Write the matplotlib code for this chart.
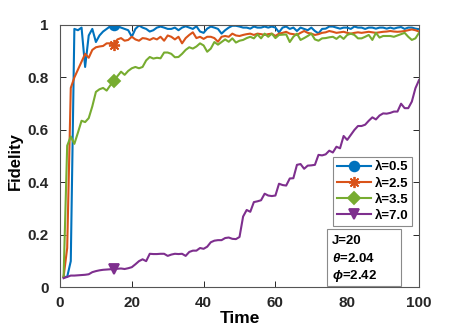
import matplotlib
matplotlib.use("Agg")
import matplotlib.pyplot as plt
from matplotlib.patches import Rectangle

plt.rcParams["font.family"] = ["Liberation Sans", "DejaVu Sans"]
plt.rcParams["font.weight"] = "bold"
plt.rcParams["mathtext.fontset"] = "custom"
plt.rcParams["mathtext.it"] = "Liberation Sans:bold:italic"
plt.rcParams["mathtext.rm"] = "Liberation Sans:bold"

time_steps = list(range(1, 101))

fid_l05 = [
    0.04, 0.04, 0.10, 0.985, 0.98, 0.99, 0.84, 0.96, 0.985, 0.935,
    0.96, 0.975, 0.985, 0.995, 0.998, 0.995, 0.99, 0.985, 0.98, 0.955,
    0.985, 0.998, 0.99, 0.985, 0.975, 0.98, 0.99, 0.994, 0.99, 0.985,
    0.985, 0.99, 0.98, 0.99, 0.995, 0.99, 0.985, 0.995, 0.975, 0.97,
    0.986, 0.994, 0.99, 0.985, 0.967, 0.98, 0.99, 0.997, 0.997, 0.994,
    0.99, 0.99, 0.986, 0.994, 0.99, 0.99, 0.994, 0.99, 0.994, 0.99,
    0.972, 0.99, 0.994, 0.985, 0.99, 0.977, 0.99, 0.985, 0.98, 0.99,
    0.977, 0.968, 0.985, 0.986, 0.994, 0.994, 0.99, 0.986, 0.99, 0.99,
    0.985, 0.994, 0.99, 0.99, 0.985, 0.99, 0.99, 0.986, 0.99, 0.99,
    0.986, 0.99, 0.986, 0.99, 0.992, 0.985, 0.99, 0.99, 0.986, 0.984,
]
fid_l25 = [
    0.04, 0.15, 0.76, 0.80, 0.83, 0.86, 0.89, 0.875, 0.905, 0.915,
    0.918, 0.92, 0.93, 0.93, 0.925, 0.945, 0.95, 0.94, 0.943, 0.955,
    0.945, 0.94, 0.95, 0.948, 0.943, 0.95, 0.945, 0.955, 0.94, 0.96,
    0.955, 0.945, 0.955, 0.93, 0.95, 0.962, 0.972, 0.95, 0.955, 0.947,
    0.955, 0.955, 0.95, 0.936, 0.955, 0.958, 0.955, 0.967, 0.96, 0.958,
    0.962, 0.965, 0.967, 0.962, 0.967, 0.965, 0.962, 0.965, 0.967, 0.958,
    0.967, 0.97, 0.974, 0.967, 0.965, 0.962, 0.97, 0.977, 0.97, 0.967,
    0.962, 0.965, 0.97, 0.972, 0.977, 0.974, 0.97, 0.972, 0.974, 0.97,
    0.967, 0.97, 0.972, 0.97, 0.972, 0.974, 0.972, 0.97, 0.972, 0.974,
    0.975, 0.977, 0.975, 0.974, 0.975, 0.977, 0.98, 0.983, 0.98, 0.975,
]
fid_l35 = [
    0.04, 0.54, 0.575, 0.547, 0.59, 0.635, 0.63, 0.645, 0.69, 0.745,
    0.755, 0.76, 0.75, 0.77, 0.785, 0.805, 0.822, 0.81, 0.825, 0.835,
    0.84, 0.835, 0.84, 0.865, 0.878, 0.872, 0.875, 0.873, 0.895, 0.895,
    0.89, 0.877, 0.878, 0.89, 0.905, 0.915, 0.91, 0.918, 0.93, 0.922,
    0.898, 0.91, 0.935, 0.925, 0.935, 0.945, 0.936, 0.949, 0.933, 0.94,
    0.943, 0.95, 0.955, 0.949, 0.964, 0.949, 0.967, 0.955, 0.967, 0.95,
    0.962, 0.963, 0.964, 0.935, 0.955, 0.967, 0.943, 0.95, 0.958, 0.967,
    0.945, 0.94, 0.949, 0.95, 0.953, 0.955, 0.947, 0.958, 0.947, 0.962,
    0.967, 0.962, 0.949, 0.949, 0.955, 0.962, 0.943, 0.97, 0.952, 0.958,
    0.958, 0.958, 0.955, 0.96, 0.965, 0.97, 0.955, 0.943, 0.949, 0.97,
]
fid_l70 = [
    0.035, 0.04, 0.045, 0.045, 0.046, 0.047, 0.048, 0.05, 0.058, 0.062,
    0.065, 0.067, 0.068, 0.069, 0.07, 0.071, 0.072, 0.07, 0.073, 0.077,
    0.088, 0.1, 0.107, 0.1, 0.128, 0.127, 0.127, 0.128, 0.128, 0.12,
    0.125, 0.128, 0.127, 0.128, 0.12, 0.135, 0.14, 0.14, 0.15, 0.147,
    0.155, 0.172, 0.178, 0.18, 0.18, 0.188, 0.19, 0.185, 0.184, 0.192,
    0.27, 0.295, 0.288, 0.325, 0.328, 0.332, 0.357, 0.35, 0.348, 0.35,
    0.395, 0.39, 0.388, 0.415, 0.416, 0.467, 0.47, 0.452, 0.464, 0.465,
    0.467, 0.505, 0.503, 0.507, 0.521, 0.514, 0.536, 0.53, 0.577, 0.562,
    0.581, 0.6, 0.615, 0.615, 0.62, 0.635, 0.648, 0.64, 0.655, 0.663,
    0.662, 0.665, 0.67, 0.67, 0.70, 0.683, 0.683, 0.708, 0.759, 0.79,
]

labels = ["λ=0.5", "λ=2.5", "λ=3.5", "λ=7.0"]
colors = ["#0072BD", "#D95319", "#77AC30", "#7E2F8E"]
markers = ["o", (8, 2, 0), "D", "v"]
marker_sizes = [7, 8, 6, 7]
x_ticks = [0, 20, 40, 60, 80, 100]
y_ticks = [0, 0.2, 0.4, 0.6, 0.8, 1]
y_tick_labels = ["0", "0.2", "0.4", "0.6", "0.8", "1"]

fig = plt.figure(figsize=(4.63, 3.33), dpi=100)
ax = fig.add_axes([0.1296, 0.137, 0.7754, 0.788])

for series, lab, col, mk, ms in zip([fid_l05, fid_l25, fid_l35, fid_l70],
                                    labels, colors, markers, marker_sizes):
    ax.plot(time_steps, series, color=col, lw=1.5, marker=mk, ms=ms,
            mew=1.3, markevery=[14], label=lab)

ax.set_xlim(0, 100)
ax.set_ylim(0, 1)
ax.set_xticks(x_ticks)
ax.set_yticks(y_ticks)
ax.set_yticklabels(y_tick_labels)
ax.tick_params(direction="in", length=4, width=0.7, top=True, right=True,
               labelsize=11, colors="#262626")
ax.tick_params(axis="y", pad=8)
ax.tick_params(axis="x", pad=6)
for lbl in ax.get_xticklabels() + ax.get_yticklabels():
    lbl.set_fontweight("bold")
for sp in ax.spines.values():
    sp.set_color("#555555")
    sp.set_linewidth(0.8)

ax.set_xlabel("Time", fontsize=12.5, fontweight="bold", labelpad=1)
ax.set_ylabel("Fidelity", fontsize=12, fontweight="bold", labelpad=2)
ax.yaxis.set_label_coords(-0.103, 0.48)

leg = ax.legend(loc="upper right", bbox_to_anchor=(0.981, 0.496),
                borderaxespad=0, fontsize=9.5, handlelength=2.6,
                handletextpad=0.25, labelspacing=0.3, borderpad=0.3,
                fancybox=False, framealpha=1)
leg.get_frame().set_edgecolor("#8a8a8a")
leg.get_frame().set_linewidth(0.8)
for t in leg.get_texts():
    t.set_fontweight("bold")

ax.add_patch(Rectangle((0.745, 0.004), 0.205, 0.219, transform=ax.transAxes,
                       fill=True, facecolor="white", edgecolor="#8a8a8a",
                       lw=0.8, zorder=5))
info_lines = ["J=20", r"$\theta$=2.04", r"$\phi$=2.42"]
info_y = [0.177, 0.111, 0.044]
for txt, yy in zip(info_lines, info_y):
    ax.text(0.757, yy, txt, transform=ax.transAxes, fontsize=9.5,
            fontweight="bold", va="center", ha="left", zorder=6)

fig.savefig("out.png", dpi=100)
